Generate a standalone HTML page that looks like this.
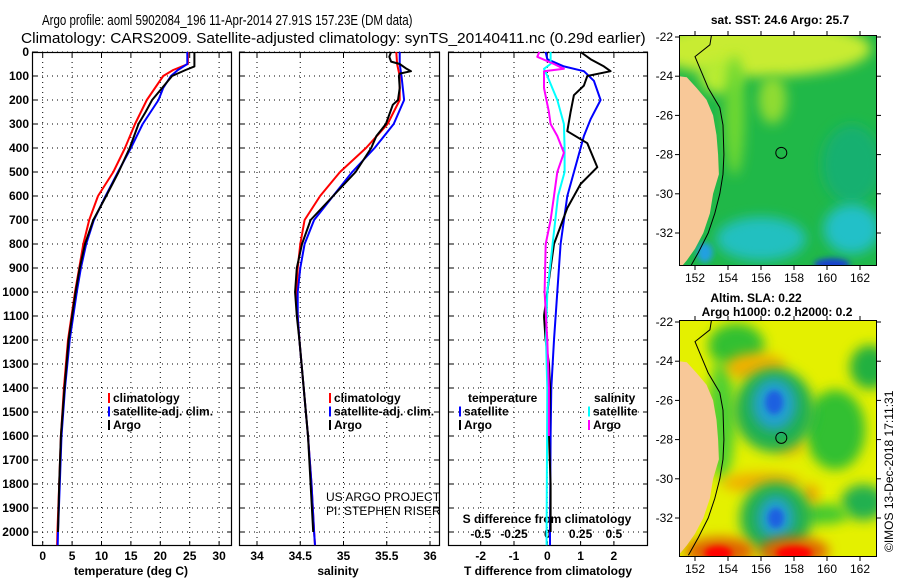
<!DOCTYPE html>
<html><head><meta charset="utf-8"><style>
body{margin:0;background:#fff}
svg{display:block;font-family:"Liberation Sans",sans-serif}
</style></head><body>
<svg id="c" width="900" height="580" xmlns="http://www.w3.org/2000/svg">
<defs>
<filter id="blur" x="-50%" y="-50%" width="200%" height="200%"><feGaussianBlur stdDeviation="6"/></filter>
<filter id="blur2" x="-50%" y="-50%" width="200%" height="200%"><feGaussianBlur stdDeviation="3"/></filter>
<clipPath id="clipTop"><rect x="679" y="35" width="198" height="231"/></clipPath>
<clipPath id="clipBot"><rect x="679" y="320" width="198" height="237"/></clipPath>
</defs>
</svg>
<script>
// ---- data ----
const tDepthClim=[0,50,75,100,150,200,300,400,500,600,700,800,900,1000,1200,1400,1600,1800,2000,2055];
const tempClim=[24.7,24.7,22.2,20.5,19.1,17.7,15.7,14,12,9.4,7.9,6.9,6.2,5.5,4.3,3.6,3.1,2.8,2.5,2.45];
const tempSat=[24.6,24.6,23,21.8,20.5,19.7,17,15,12.8,10.7,8.7,7.4,6.5,5.8,4.6,3.8,3.2,2.9,2.6,2.55];
const tDepthArgo=[0,60,75,100,150,200,250,300,400,500,600,700,800,900,1000,1200,1400,1600,1800,2000];
const tempArgo=[25.8,25.8,24.3,22,20.3,18.6,17.5,16.3,14.8,12.9,10.8,8.6,7.2,6.3,5.6,4.4,3.7,3.1,2.8,2.6];
const sDepthClim=[0,50,100,200,300,400,500,600,700,800,900,1000,1100,1200,1400,1600,1800,2000,2055];
const salClim=[35.61,35.62,35.65,35.65,35.51,35.26,34.96,34.73,34.55,34.5,34.47,34.46,34.47,34.49,34.54,34.59,34.63,34.66,34.67];
const salSat=[35.65,35.65,35.67,35.7,35.58,35.36,35.1,34.88,34.66,34.55,34.5,34.47,34.47,34.49,34.54,34.59,34.63,34.66,34.67];
const sDepthArgo=[0,20,40,50,70,80,90,100,150,200,220,300,350,400,500,600,700,800,900,1000,1100,1200,1400,1600,1800,2000];
const salArgo=[35.55,35.53,35.55,35.65,35.73,35.78,35.65,35.64,35.65,35.63,35.57,35.49,35.38,35.32,35.14,34.88,34.62,34.52,34.46,34.44,34.46,34.49,34.54,34.59,34.62,34.65];
const dDepthTsat=[0,30,60,80,120,200,280,350,450,600,800,1000,1200,1400,1600,2000,2055];
const dTsat=[-0.05,0,0.5,1.1,1.4,1.6,1.3,1.1,0.9,0.6,0.4,0.3,0.2,0.12,0.1,0.08,0.08];
const dDepthTargo=[0,30,60,80,100,140,180,250,330,380,480,550,650,800,900,1000,1100,1200,1300,1400,1600,1800,2000];
const dTargo=[1.0,1.3,1.7,1.9,1.2,1.1,0.8,0.7,0.6,1.2,1.5,1.0,0.6,0.2,0.1,0.0,-0.1,-0.05,0.05,0.08,0.05,0.1,0.1];
const dDepthSsat=[0,50,70,100,200,300,400,500,600,800,1000,1200,1400,2000,2055];
const dSsat=[0.025,0.025,-0.025,0,0.075,0.125,0.13,0.13,0.08,0.04,0,-0.01,0,-0.005,-0.005];
const dDepthSargo=[0,20,50,70,80,100,150,250,300,350,420,500,600,700,800,1000,1200,1400,1600];
const dSargo=[-0.06,-0.075,0.05,0.125,-0.025,-0.025,-0.025,0.012,0.025,0.075,0.125,0.075,0.05,0.025,-0.012,-0.02,0,0.012,0.012];
const depthTicks=[0,100,200,300,400,500,600,700,800,900,1000,1100,1200,1300,1400,1500,1600,1700,1800,1900,2000];
const tempTicks=[0,5,10,15,20,25,30];
const salTicks=[34,34.5,35,35.5,36];
const dTTicks=[-2,-1,0,1,2];
const dSTicks=[-0.5,-0.25,0,0.25,0.5];
const latTicks=[-22,-24,-26,-28,-30,-32];
const lonTicks=[152,154,156,158,160,162];

// ---- axes ----
const PT=52,PB=546;
const yD=d=>PT+d*0.24;
const xT=t=>42.7+t*5.88;
const xS=s=>257+(s-34)*86.5;
const xDT=v=>547.3+v*33.3;
const xDS=v=>547.3+v*133.2;
const svg=document.getElementById('c');
const NS='http://www.w3.org/2000/svg';
function mk(tag,attrs,parent){const e=document.createElementNS(NS,tag);for(const k in attrs)e.setAttribute(k,attrs[k]);(parent||svg).appendChild(e);return e;}
function txt(x,y,s,opt,parent){const e=mk('text',Object.assign({x:x,y:y,'font-size':12,'font-weight':'bold','fill':'#000'},opt||{}),parent);e.textContent=s;return e;}
function fitText(x,y,s,w,size,name){
  const e=mk('text',{x:0,y:0,'font-size':size,fill:'#000'});e.textContent=s;
  const L=e.getComputedTextLength();
  e.setAttribute('transform','translate('+x+','+y+') scale('+(w/L).toFixed(4)+',1)');
  
  
}
fitText(42,25,'Argo profile: aoml 5902084_196 11-Apr-2014 27.91S 157.23E (DM data)',371,15,'title-line-1');
fitText(21,43,'Climatology: CARS2009. Satellite-adjusted climatology: synTS_20140411.nc (0.29d earlier)',625,15,'title-line-2');

const panels=[{x0:32,x1:232,name:'temperature'},{x0:239,x1:440,name:'salinity'},{x0:448,x1:648,name:'difference'}];
function panelGrid(p,xticks,xf,labels){
  const g=mk('g',{});
  
  
  depthTicks.forEach(d=>{const y=yD(d);
    mk('line',{x1:p.x0,x2:p.x1,y1:y,y2:y,stroke:'#000','stroke-width':1,'stroke-dasharray':'1,4'},g);
    mk('line',{x1:p.x0,x2:p.x0+5,y1:y,y2:y,stroke:'#000'},g);
    mk('line',{x1:p.x1-5,x2:p.x1,y1:y,y2:y,stroke:'#000'},g);
  });
  xticks.forEach((v,i)=>{const x=xf(v);
    mk('line',{x1:x,x2:x,y1:PT,y2:PB,stroke:'#000','stroke-dasharray':'1,4'},g);
    mk('line',{x1:x,x2:x,y1:PB,y2:PB-5,stroke:'#000'},g);
    mk('line',{x1:x,x2:x,y1:PT,y2:PT+5,stroke:'#000'},g);
    const e=txt(x,560,labels[i],{'text-anchor':'middle'},g);
    
    
  });
  mk('rect',{x:p.x0+0.5,y:PT+0.5,width:p.x1-p.x0-1,height:PB-PT-1,fill:'none',stroke:'#000','stroke-width':1.2},g);
}
panelGrid(panels[0],tempTicks,xT,tempTicks.map(String));
panelGrid(panels[1],salTicks,xS,salTicks.map(String));
panelGrid(panels[2],dTTicks,xDT,dTTicks.map(String));
depthTicks.forEach(d=>{const e=txt(29,yD(d)+4,String(d),{'text-anchor':'end'});});
[['temperature (deg C)',131],['salinity',338],['T difference from climatology',548]].forEach(a=>{const e=txt(a[1],575,a[0],{'text-anchor':'middle'});});
let st=txt(547,523,'S difference from climatology',{'text-anchor':'middle'});
dSTicks.forEach(v=>{const e=txt(xDS(v),538,v===0?'0':String(v),{'text-anchor':'middle'});});

function line(xs,ds,xf,color,name){
  const pts=xs.map((v,i)=>xf(v).toFixed(1)+','+yD(ds[i]).toFixed(1)).join(' ');
  const e=mk('polyline',{points:pts,fill:'none',stroke:color,'stroke-width':2,'stroke-linejoin':'round'});
  
  
}
line(tempClim,tDepthClim,xT,'#ff0000','temp-climatology-line');
line(tempSat,tDepthClim,xT,'#0000ff','temp-satellite-line');
line(tempArgo,tDepthArgo,xT,'#000000','temp-argo-line');
line(salClim,sDepthClim,xS,'#ff0000','sal-climatology-line');
line(salSat,sDepthClim,xS,'#0000ff','sal-satellite-line');
line(salArgo,sDepthArgo,xS,'#000000','sal-argo-line');
line(dTsat,dDepthTsat,xDT,'#0000ff','dT-satellite-line');
line(dTargo,dDepthTargo,xDT,'#000000','dT-argo-line');
line(dSsat,dDepthSsat,xDS,'#00ffff','dS-satellite-line');
line(dSargo,dDepthSargo,xDS,'#ff00ff','dS-argo-line');

function legend(x,y,items,nm){
  items.forEach((it,i)=>{
    const yy=y+i*13.5;
    if(it[1]) mk('rect',{x:x,y:yy-9,width:2,height:10,fill:it[1]});
    const e=txt(x+(it[1]?5:0),yy,it[0]);
    
    
  });
}
legend(108,402,[['climatology','#ff0000'],['satellite-adj. clim.','#0000ff'],['Argo','#000']],'legend-entry');
legend(329,402,[['climatology','#ff0000'],['satellite-adj. clim.','#0000ff'],['Argo','#000']],'legend-entry');
legend(468,402,[['temperature',null]],'legend-title');
legend(459,415.5,[['satellite','#0000ff'],['Argo','#000']],'legend-entry');
legend(594,402,[['salinity',null]],'legend-title');
legend(588,415.5,[['satellite','#00ffff'],['Argo','#ff00ff']],'legend-entry');
let cr=txt(326,501,'US ARGO PROJECT',{'font-weight':'normal'});
let cr2=txt(326,515,'PI: STEPHEN RISER',{'font-weight':'normal'});

// ---- maps ----
const landLL=[[151.0,-24],[151.5,-24.05],[152.1,-24.6],[152.7,-25.2],[153.1,-26],[153.3,-27],[153.4,-28],[153.45,-29],[153.1,-30],[152.9,-31],[152.5,-32],[152.0,-32.8],[151.5,-33.4],[151.0,-33.9]];
const shelfLL=[[153.0,-21.9],[152.9,-22.4],[152.0,-23.0],[152.4,-23.8],[152.8,-24.6],[153.5,-25.6],[153.7,-26.5],[153.75,-28],[153.7,-29],[153.5,-30],[153.2,-31],[152.8,-32],[152.2,-33],[151.6,-33.9]];
function map(y0,y1,yLat22,clip,kind,title,name){
  const g=mk('g',{'clip-path':'url(#'+clip+')'});
  
  
  const latY=l=>yLat22+(-22-l)*19.6;
  const lonX=l=>695+(l-152)*16.5;
  const blob=(lon,lat,rx,ry,fill,f)=>mk('ellipse',{cx:lonX(lon),cy:latY(lat),rx:rx,ry:ry,fill:fill,filter:'url(#'+(f||'blur')+')'},g);
  if(kind==='sst'){
    mk('rect',{x:679,y:y0,width:198,height:y1-y0,fill:'#20b848'},g);
    blob(156,-22.6,110,28,'#c8ec30');
    blob(153.5,-24,20,18,'#b8ec30');
    blob(154.4,-26,10,60,'#70d830');
    blob(156.7,-25.2,14,24,'#90dc30');
    blob(161.5,-28.5,30,40,'#18b070');
    blob(156,-32.3,45,22,'#20c0c0');
    blob(161.5,-31.8,28,25,'#20c0c8');
    blob(160.3,-33.6,18,6,'#1840d0','blur2');
    blob(152.6,-33,8,10,'#20a0e0','blur2');
  } else {
    mk('rect',{x:679,y:y0,width:198,height:y1-y0,fill:'#e4f000'},g);
    blob(154.5,-23.2,28,22,'#30c030');
    blob(162.6,-24.3,20,22,'#20b040');
    blob(153.6,-27,14,60,'#50d030');
    blob(160.5,-27.5,30,40,'#30c030');
    blob(162.2,-31.2,22,18,'#20b050');
    blob(159.8,-31.8,25,10,'#40c830');
    blob(155.7,-24.3,30,14,'#f0b000');
    blob(157.7,-28.3,16,10,'#f0c000');
    blob(156,-30.2,40,10,'#f0b000');
    blob(159,-30.8,8,10,'#f0a000');
    blob(156.8,-26.5,40,42,'#20b050');
    blob(156.8,-26.2,22,26,'#20a0d0');
    blob(156.8,-26.1,9,12,'#1e60e0','blur2');
    blob(156.9,-32,36,36,'#20b050');
    blob(156.9,-32,18,22,'#20a0d0');
    blob(156.9,-32,8,10,'#1e60e0','blur2');
    blob(153.5,-33.7,35,14,'#e06000');
    blob(158,-33.7,35,14,'#e06000');
    blob(153.4,-33.8,14,7,'#ff0000','blur2');
    blob(158,-33.8,18,7,'#ff0000','blur2');
  }
  const landPts=landLL.map(p=>lonX(p[0]).toFixed(1)+','+latY(p[1]).toFixed(1)).join(' ')+' 679,'+y1;
  const lp=mk('polygon',{points:landPts,fill:'#f8c898'},g);
  
  
  mk('polyline',{points:shelfLL.map(p=>lonX(p[0]).toFixed(1)+','+latY(p[1]).toFixed(1)).join(' '),fill:'none',stroke:'#000','stroke-width':1},g);
  const c=mk('circle',{cx:lonX(157.23),cy:latY(-27.91),r:5.5,fill:'none',stroke:'#000','stroke-width':1});
  
  mk('rect',{x:679.5,y:y0+0.5,width:197,height:y1-y0-1,fill:'none',stroke:'#000'});
  latTicks.forEach(l=>{const y=latY(l);mk('line',{x1:679,x2:675,y1:y,y2:y,stroke:'#000'});mk('line',{x1:877,x2:881,y1:y,y2:y,stroke:'#000'});
    const e=txt(673,y+4,String(l),{'text-anchor':'end','font-weight':'normal'});});
  lonTicks.forEach(l=>{const x=lonX(l);mk('line',{x1:x,x2:x,y1:y1,y2:y1+4,stroke:'#000'});mk('line',{x1:x,x2:x,y1:y0,y2:y0-4,stroke:'#000'});
    const e=txt(x,y1+16,String(l),{'text-anchor':'middle','font-weight':'normal'});});
  title.forEach(s=>{const e=txt(s[1],s[2],s[0],{'text-anchor':'middle'});});
}
map(35,266,37,'clipTop','sst',[['sat. SST: 24.6 Argo: 25.7',780,24]],'sst-map');
map(320,557,322,'clipBot','sla',[['Altim. SLA: 0.22',756,302],['Argo h1000: 0.2 h2000: 0.2',777,316]],'sla-map');
let im=txt(0,0,'©IMOS 13-Dec-2018 17:11:31',{'font-weight':'normal','transform':'translate(893,552) rotate(-90)'});

</script>
</body></html>
